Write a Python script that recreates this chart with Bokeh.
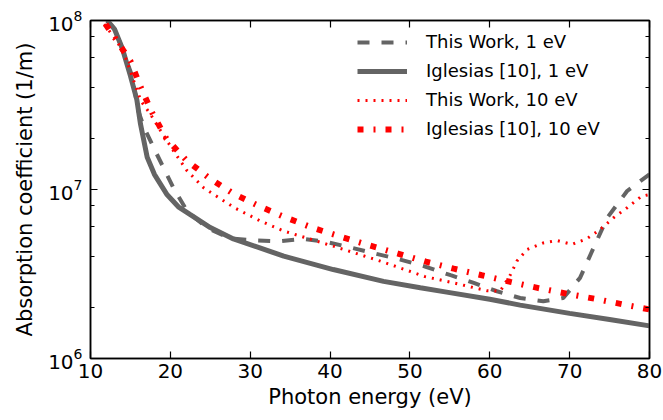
from bokeh.plotting import figure
from bokeh.models import (LinearAxis, LogAxis, FixedTicker, LogTicker, Legend, LegendItem, Range1d,
                          CustomJSTickFormatter)
from bokeh.embed import file_html
from bokeh.resources import INLINE

# ---- data ----
x_tw1 = [12.1, 13, 14, 15.2, 16.0, 16.7, 18.3, 20.4, 22.1, 24.6, 27.5, 30.4, 33.6, 36.7, 39.6,
         42.7, 45.7, 48.8, 51.9, 55.1, 58.0, 60.9, 63.8, 66.7, 69.2, 71.3, 73.0, 74.7, 77.2, 80]
y_tw1 = [1.0e8, 8.9e7, 6.8e7, 4.7e7, 2.9e7, 2.33e7, 1.62e7, 1.02e7, 7.45e6, 5.93e6, 5.13e6, 5.0e6,
         4.94e6, 5.1e6, 4.89e6, 4.52e6, 4.17e6, 3.85e6, 3.5e6, 3.11e6, 2.8e6, 2.5e6, 2.28e6, 2.18e6,
         2.28e6, 3.0e6, 4.52e6, 6.8e6, 9.8e6, 1.23e7]

x_ig1 = [12.1, 13, 14, 15.0, 15.8, 16.26, 17.1, 18.0, 19.6, 21, 22.5, 25, 27.9, 31.3, 34.2, 40.4,
         46.7, 51.3, 54.6, 60, 63.8, 70, 75, 80]
y_ig1 = [1.0e8, 8.9e7, 6.8e7, 4.7e7, 3.4e7, 2.44e7, 1.55e7, 1.23e7, 9.3e6, 7.9e6, 7.1e6, 5.95e6,
         5.1e6, 4.5e6, 4.03e6, 3.36e6, 2.86e6, 2.62e6, 2.47e6, 2.24e6, 2.07e6, 1.85e6, 1.7e6, 1.56e6]

x_tw10 = [11.7, 13.3, 14.4, 15.2, 16.3, 17.5, 18.8, 20.4, 22.1, 24.2, 28.1, 31.3, 34.2, 40.4, 46.3,
          51.9, 55.5, 59.6, 61.3, 62.6, 63.4, 64.7, 66.7, 68.4, 70.3, 72.2, 73.8, 75.5, 77.2, 79.0, 80]
y_tw10 = [9.5e7, 7.6e7, 6.0e7, 4.7e7, 3.35e7, 2.79e7, 2.22e7, 1.69e7, 1.29e7, 1.02e7, 7.76e6, 6.5e6,
          5.68e6, 4.62e6, 3.77e6, 3.05e6, 2.8e6, 2.52e6, 2.5e6, 3.14e6, 3.77e6, 4.42e6, 4.83e6,
          4.99e6, 4.73e6, 5.13e6, 5.79e6, 6.81e6, 7.8e6, 9.12e6, 9.33e6]

x_ig10 = [11.9, 12.9, 15.0, 16.26, 17.7, 19.5, 22.0, 24.8, 27.9, 31.2, 34.5, 38.0, 41.4, 44.9, 48.5,
          52.0, 55.5, 59.0, 62.6, 66.1, 69.8, 73.3, 76.9, 80]
y_ig10 = [9.5e7, 8.1e7, 5.75e7, 4.06e7, 2.86e7, 2.0e7, 1.49e7, 1.175e7, 9.44e6, 7.94e6, 6.81e6,
          5.89e6, 5.25e6, 4.67e6, 4.18e6, 3.74e6, 3.4e6, 3.11e6, 2.84e6, 2.61e6, 2.41e6, 2.25e6,
          2.08e6, 1.95e6]

x_ticks = [10, 20, 30, 40, 50, 60, 70, 80]
labels = ["This Work, 1 eV", "Iglesias [10], 1 eV", "This Work, 10 eV", "Iglesias [10], 10 eV"]

FONT = "DejaVu Sans"
GRAY = "#646464"
RED = "#ff0000"

p = figure(width=663, height=420, y_axis_type="log", output_backend="svg", toolbar_location=None,
           x_range=Range1d(10, 80), y_range=Range1d(1e6, 1e8),
           min_border_left=90, min_border_right=14, min_border_top=20, min_border_bottom=62)
p.grid.visible = False
p.outline_line_color = "black"
p.outline_line_width = 1.5
p.background_fill_color = "white"
p.border_fill_color = "white"

r1 = p.line(x_tw1, y_tw1, line_color=GRAY, line_width=4, line_dash="12 12")
r2 = p.line(x_ig1, y_ig1, line_color=GRAY, line_width=5)
r3 = p.line(x_tw10, y_tw10, line_color=RED, line_width=3, line_dash="2 6")
r4 = p.line(x_ig10, y_ig10, line_color=RED, line_width=6, line_dash="6 10 2 10")

def style(ax):
    ax.axis_line_color = "black"
    ax.axis_line_width = 1.5
    ax.major_tick_in = 7
    ax.major_tick_out = 0
    ax.minor_tick_in = 4
    ax.minor_tick_out = 0
    ax.major_tick_line_color = "black"
    ax.minor_tick_line_color = "black"
    ax.major_tick_line_width = 1.2
    ax.minor_tick_line_width = 1.2
    ax.major_label_text_font = FONT
    ax.major_label_text_color = "black"
    ax.major_label_text_font_size = "20px"
    ax.axis_label_text_font = FONT
    ax.axis_label_text_font_style = "normal"
    ax.axis_label_text_font_size = "21px"
    ax.axis_label_text_color = "black"

xa = p.xaxis[0]
style(xa)
xa.ticker = FixedTicker(ticks=x_ticks)
xa.minor_tick_line_color = None
xa.axis_label = "Photon energy (eV)"
xa.major_label_standoff = 5
xa.axis_label_standoff = 4

ya = p.yaxis[0]
style(ya)
ya.ticker = LogTicker()
ya.axis_label = "Absorption coefficient (1/m)"
ya.major_label_standoff = 8
ya.axis_label_standoff = 8

blank = CustomJSTickFormatter(code="return ''")

top = LinearAxis(ticker=FixedTicker(ticks=x_ticks), formatter=blank)
style(top)
top.minor_tick_line_color = None
top.major_label_standoff = 0
p.add_layout(top, "above")

right = LogAxis(ticker=LogTicker(), formatter=blank)
style(right)
right.major_label_standoff = 0
p.add_layout(right, "right")

legend = Legend(items=[LegendItem(label=labels[0], renderers=[r1]),
                       LegendItem(label=labels[1], renderers=[r2]),
                       LegendItem(label=labels[2], renderers=[r3]),
                       LegendItem(label=labels[3], renderers=[r4])],
                location=(267, 219))
legend.padding = 0
legend.margin = 0
legend.spacing = 8
legend.glyph_width = 50
legend.glyph_height = 20
legend.label_height = 20
legend.label_standoff = 19
legend.label_text_font = FONT
legend.label_text_font_size = "18px"
legend.label_text_color = "black"
legend.border_line_color = None
legend.background_fill_alpha = 0
p.add_layout(legend)

open("out.html", "w").write(file_html(p, INLINE))
